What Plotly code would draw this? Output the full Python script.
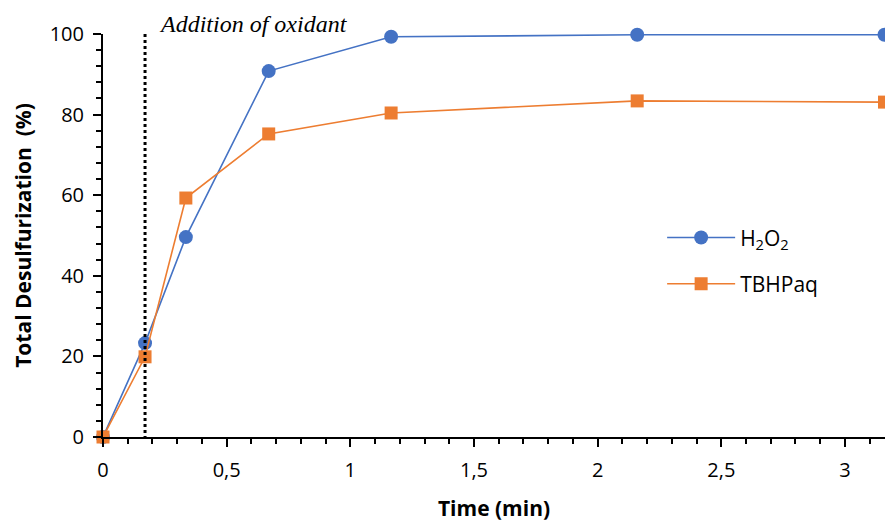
import plotly.graph_objects as go

time_min = [0, 0.17, 0.335, 0.67, 1.165, 2.16, 3.16]
h2o2 = [0, 23.3, 49.6, 90.8, 99.3, 99.8, 99.8]
tbhp = [0, 19.9, 59.3, 75.2, 80.4, 83.4, 83.1]
oxidant_time = 0.17
x_ticks = [0, 0.5, 1, 1.5, 2, 2.5, 3]
x_tick_labels = ["0", "0,5", "1", "1,5", "2", "2,5", "3"]
y_ticks = [0, 20, 40, 60, 80, 100]

blue = "#4472C4"
orange = "#ED7D31"
sans = "Open Sans, Noto Sans, sans-serif"
tick_font = dict(family=sans, size=20, color="#000")

fig = go.Figure()
fig.add_trace(go.Scatter(
    x=time_min, y=h2o2, mode="lines+markers", name="H<sub>2</sub>O<sub>2</sub>",
    line=dict(color=blue, width=1.6), marker=dict(symbol="circle", size=14, color=blue),
    cliponaxis=False, legendgroup="a"))
fig.add_trace(go.Scatter(
    x=time_min, y=tbhp, mode="lines+markers", name="TBHPaq",
    line=dict(color=orange, width=1.6), marker=dict(symbol="square", size=13, color=orange),
    cliponaxis=False, legendgroup="b"))

fig.add_shape(type="line", xref="x", yref="y", x0=oxidant_time, x1=oxidant_time,
              y0=-0.5, y1=100.5, line=dict(color="black", width=3, dash="dot"))

fig.add_annotation(x=(253 - 103) / 782, y=1 + (34 - 24) / 403, xref="paper", yref="paper",
                   text="<i>Addition of oxidant</i>", showarrow=False,
                   font=dict(family="Liberation Serif, serif", size=24, color="#000"),
                   xanchor="center", yanchor="middle")

fig.update_layout(
    width=885, height=522,
    margin=dict(l=103, r=0, t=34, b=85, autoexpand=False),
    paper_bgcolor="white", plot_bgcolor="white",
    showlegend=True,
    legend=dict(x=0.715, y=0.545, xanchor="left", yanchor="top",
                font=dict(family=sans, size=21, color="#000"),
                tracegroupgap=16, bgcolor="rgba(0,0,0,0)", itemwidth=68),
    xaxis=dict(range=[0, 3.162], tickvals=x_ticks, ticktext=x_tick_labels, automargin=False,
               showgrid=False, zeroline=False, showline=True, linecolor="black", linewidth=2,
               ticks="outside", ticklen=8, tickwidth=2, tickcolor="black", tickfont=tick_font,
               ticklabelstandoff=6,
               minor=dict(dtick=0.1, ticks="outside", ticklen=5, tickwidth=2, tickcolor="black", showgrid=False),
               title=dict(text="<b>Time (min)</b>", font=dict(family=sans, size=21, color="#000"), standoff=35)),
    yaxis=dict(range=[0, 100], tickvals=y_ticks, automargin=False,
               showgrid=False, zeroline=False, showline=True, linecolor="black", linewidth=2,
               ticks="outside", ticklen=8, tickwidth=2, tickcolor="black", tickfont=tick_font,
               ticklabelstandoff=5,
               minor=dict(dtick=4, ticks="outside", ticklen=5, tickwidth=2, tickcolor="black", showgrid=False),
               title=dict(text="<b>Total Desulfurization  (%)</b>", font=dict(family=sans, size=21, color="#000"), standoff=12)),
)

# remove the default 8px page margin so the 885x522 figure fills the window exactly
fig.write_html("out.html", config={"displayModeBar": False},
               post_script="document.body.style.margin='0';document.body.style.overflow='hidden';")
